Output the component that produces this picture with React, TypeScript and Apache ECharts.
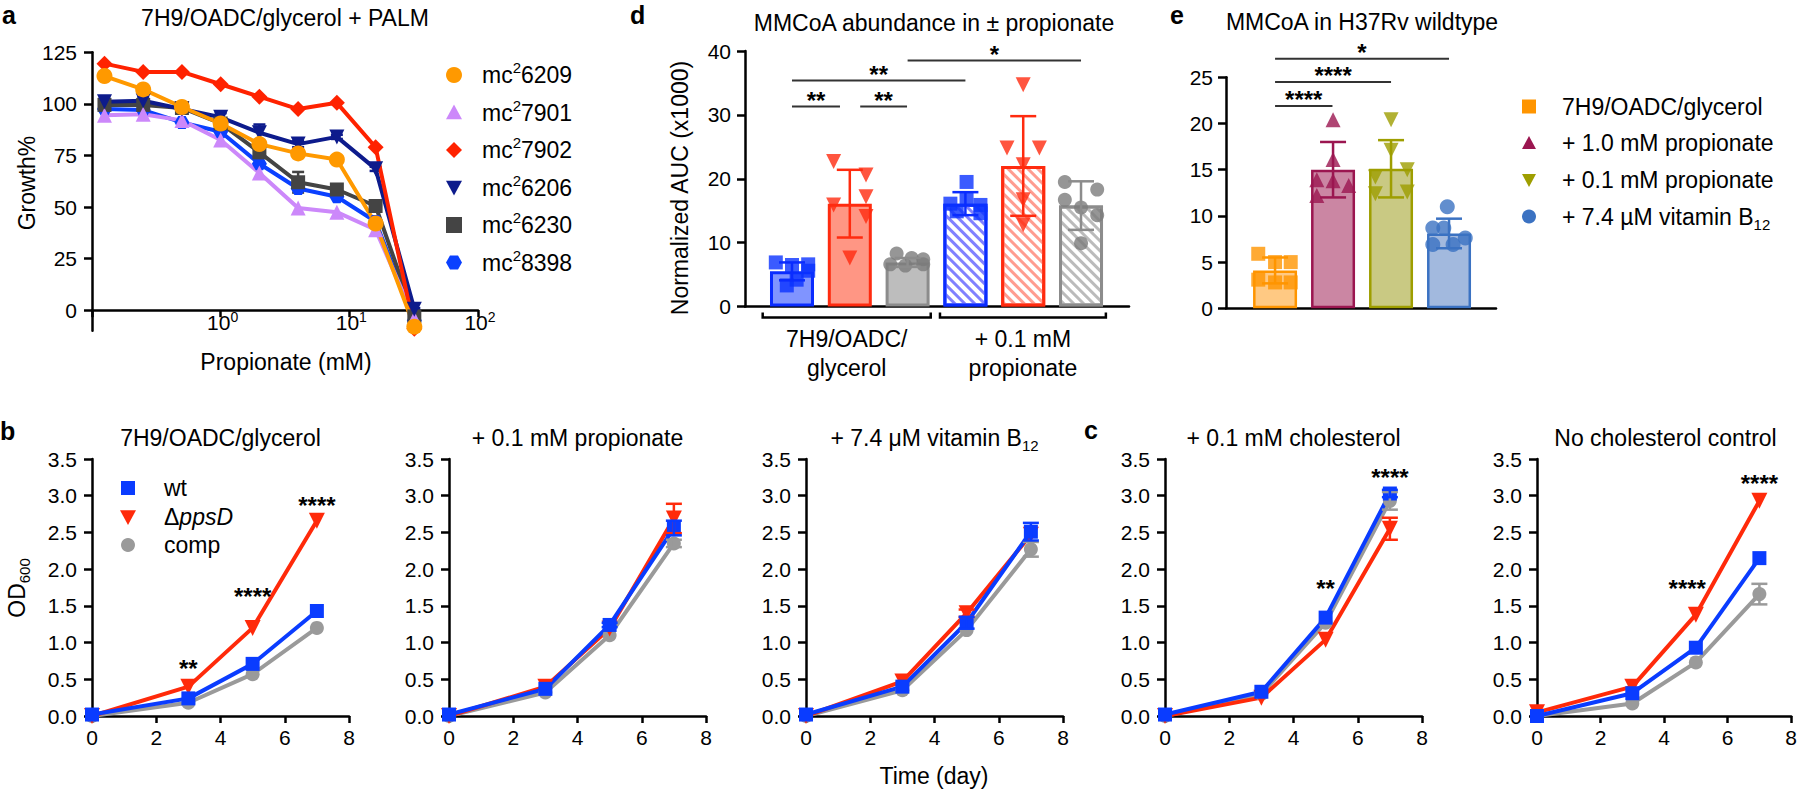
import React, { useEffect, useRef } from 'react';
import * as echarts from 'echarts';

const FONT = '"Liberation Sans", Arial, Helvetica, sans-serif';

// ===== Panel a : growth (%) vs propionate (mM), PALM =====
const concA = [0.125, 0.25, 0.5, 1, 2, 4, 8, 16, 32];
const growth6209 = [113.5, 107, 98.5, 90.5, 80.5, 76, 73, 42, -8];
const growth7901 = [94.5, 95, 92, 82.5, 66.5, 49.5, 47.5, 39, -4];
const growth7902 = [119.5, 115.5, 115.5, 109.5, 103.5, 97.5, 100.5, 79, -9];
const growth6206 = [101, 101.5, 97.5, 93.5, 86, 80.5, 84, 68.5, 0.5];
const growth6230 = [99.5, 99.5, 98, 90.5, 76.5, 62, 58.5, 50.5, -3];
const growth8398 = [97.5, 97, 91, 86.5, 71, 59, 55, 43, -5];
const sdA6206 = [1.5, 2, 1, 2, 4, 1.5, 1, 1, 0.5];
const sdA6230 = [1, 1, 1, 1, 2, 5, 1.5, 1.5, 1];
const strainsA = ['6209', '7901', '7902', '6206', '6230', '8398'];
const growthTicksA = [0, 25, 50, 75, 100, 125];
const logTicksA = [1, 10, 100];
const logTickExpA = ['0', '1', '2'];

// ===== Panels b, c : OD600 vs time (day) =====
const days = [0, 3, 5, 7];
const b1Wt = [0.02, 0.24, 0.71, 1.43];
const b1Del = [0.0, 0.4, 1.2, 2.66];
const b1Comp = [0.0, 0.18, 0.57, 1.2];
const b2Wt = [0.02, 0.37, 1.24, 2.56];
const b2Del = [0.0, 0.4, 1.19, 2.69];
const b2Comp = [0.0, 0.32, 1.1, 2.35];
const b3Wt = [0.02, 0.4, 1.27, 2.51];
const b3Del = [0.0, 0.47, 1.4, 2.47];
const b3Comp = [0.0, 0.35, 1.17, 2.27];
const c1Wt = [0.02, 0.33, 1.34, 3.03];
const c1Del = [0.0, 0.25, 1.04, 2.55];
const c1Comp = [0.0, 0.3, 1.27, 2.93];
const c2Wt = [0.0, 0.31, 0.93, 2.15];
const c2Del = [0.05, 0.4, 1.38, 2.93];
const c2Comp = [0.0, 0.17, 0.73, 1.66];
const noSD = [0, 0, 0, 0];
const b2WtSD = [0, 0, 0.03, 0.1];
const b2DelSD = [0, 0, 0, 0.2];
const b2CompSD = [0, 0, 0, 0.05];
const b3WtSD = [0, 0, 0.08, 0.12];
const b3DelSD = [0, 0, 0.05, 0];
const b3CompSD = [0, 0, 0, 0.1];
const c1WtSD = [0, 0, 0, 0.05];
const c1DelSD = [0, 0, 0, 0.15];
const c1CompSD = [0, 0, 0, 0.12];
const c2CompSD = [0, 0, 0, 0.14];
const b1Stars = [[3, 0.71], [5, 1.69], [7, 2.94]];
const b1StarText = ['**', '****', '****'];
const c1Stars = [[5, 1.81], [7, 3.32]];
const c1StarText = ['**', '****'];
const c2Stars = [[4.73, 1.81], [7, 3.24]];
const c2StarText = ['****', '****'];
const bcTitles = ['7H9/OADC/glycerol', '+ 0.1 mM propionate', '+ 7.4 \u03bcM vitamin B', '+ 0.1 mM cholesterol', 'No cholesterol control'];
const bcTitleSubs = ['', '', '12', '', ''];
const odTicks = [0, 0.5, 1, 1.5, 2, 2.5, 3, 3.5];

// ===== Panel d : MMCoA abundance +/- propionate =====
const dGroupLabels = [['7H9/OADC/', 'glycerol'], ['+ 0.1 mM', 'propionate']];
const dBrackets = [[-0.507, 2.4], [2.56, 5.43]];
const dBarMeans = [5.5, 16.1, 6.9, 16.1, 22.0, 15.8];
const dBarSD = [1.4, 5.3, 0.7, 1.8, 7.8, 3.8];
const dBlue7H9 = [6.9, 6.5, 6.6, 5.6, 4.2, 3.3];
const dBlue7H9Off = [-0.28, 0, 0.28, 0.28, 0.08, -0.09];
const dRed7H9 = [22.7, 20.6, 15.9, 17.2, 14.1, 7.6];
const dRed7H9Off = [-0.28, 0.28, -0.28, 0.28, 0.28, 0];
const dGray7H9 = [8.3, 7.6, 7.4, 6.6, 6.4, 6.6];
const dGray7H9Off = [-0.19, 0.07, 0.27, -0.3, -0.04, 0.27];
const dBlueProp = [19.5, 16.9, 16.1, 15.9, 14.9, 14.6];
const dBluePropOff = [0.02, 0.02, -0.26, 0.26, -0.15, 0.26];
const dRedProp = [34.7, 24.8, 24.8, 22.2, 16.7, 12.8];
const dRedPropOff = [0, -0.28, 0.28, 0, 0, 0];
const dGrayProp = [19.5, 18.3, 16.7, 14.3, 9.9, 15.5];
const dGrayPropOff = [-0.28, 0.28, -0.28, 0.28, 0, 0];
const dSigLines = [[0, 0.83, 31.3], [1.18, 1.99, 31.3], [0, 3, 35.4], [2, 5, 38.5]];
const dSigText = ['**', '**', '**', '*'];

// ===== Panel e : MMCoA in H37Rv wildtype =====
const eLegend = ['7H9/OADC/glycerol', '+ 1.0 mM propionate', '+ 0.1 mM propionate', '+ 7.4 \u00b5M vitamin B'];
const eLegendSubs = ['', '', '', '12'];
const eBarMeans = [4.1, 15.0, 15.1, 8.1];
const eBarSD = [1.4, 3.0, 3.1, 1.6];
const eOrange = [5.9, 3.1, 5.0, 2.8, 5.0, 2.8];
const eOrangeOff = [-0.29, -0.29, 0, 0, 0.27, 0.27];
const eMaroon = [20.4, 16.1, 13.9, 13.8, 13.3, 12.2];
const eMaroonOff = [0, 0, -0.28, 0, 0.27, -0.28];
const eOlive = [20.4, 17.1, 15.0, 14.2, 12.4, 12.6];
const eOliveOff = [0, 0, 0.28, -0.27, -0.27, 0.28];
const eBlue = [11.0, 8.7, 8.7, 7.6, 6.9, 6.9];
const eBlueOff = [-0.03, -0.28, -0.09, 0.28, -0.28, 0.07];
const eSigLines = [[0, 0.99, 21.9], [0, 2, 24.5], [0, 3, 27.0]];
const eSigText = ['****', '****', '*'];

// ---------- styling ----------
const BLUE = '#0A3CFF';
const RED = '#FF2A0A';
const GRAY = '#9A9A9A';
const hexPath = 'path://M-1,0L-0.5,-0.866L0.5,-0.866L1,0L0.5,0.866L-0.5,0.866Z';

const axisLine = (onZero = true) => ({ show: true, onZero, lineStyle: { color: '#000', width: 2.5 } });
const axisTick = (len = 8) => ({ show: true, inside: false, length: len, lineStyle: { color: '#000', width: 2.5 } });

function errorBars(ai: number, data: number[][], colors: string | string[], capHalf: number, lw: number, z = 4) {
  return {
    type: 'custom', xAxisIndex: ai, yAxisIndex: ai, z, clip: false, silent: true,
    data,
    renderItem: (params: any, api: any) => {
      const x = api.value(0), m = api.value(1), s = api.value(2);
      if (!s) return { type: 'group', children: [] };
      const c = Array.isArray(colors) ? colors[params.dataIndex] : colors;
      const t = api.coord([x, m + s]);
      const b = api.coord([x, m - s]);
      const st = { stroke: c, lineWidth: lw };
      return {
        type: 'group', children: [
          { type: 'line', shape: { x1: t[0], y1: t[1], x2: b[0], y2: b[1] }, style: st },
          { type: 'line', shape: { x1: t[0] - capHalf, y1: t[1], x2: t[0] + capHalf, y2: t[1] }, style: st },
          { type: 'line', shape: { x1: b[0] - capHalf, y1: b[1], x2: b[0] + capHalf, y2: b[1] }, style: st },
        ],
      };
    },
  };
}

function starSeries(ai: number, pts: number[][], labels: string[]) {
  return {
    type: 'custom', xAxisIndex: ai, yAxisIndex: ai, z: 6, clip: false, silent: true,
    data: pts,
    renderItem: (params: any, api: any) => {
      const p = api.coord([api.value(0), api.value(1)]);
      return {
        type: 'text', x: p[0], y: p[1] + 5,
        style: { text: labels[params.dataIndex], fontSize: 24, fontWeight: 'bold', fontFamily: FONT, fill: '#000', align: 'center', verticalAlign: 'middle' },
      };
    },
  };
}

function sigSeries(ai: number, lines: number[][], labels: string[]) {
  return {
    type: 'custom', xAxisIndex: ai, yAxisIndex: ai, z: 6, clip: false, silent: true,
    data: lines,
    renderItem: (params: any, api: any) => {
      const p1 = api.coord([api.value(0), api.value(2)]);
      const p2 = api.coord([api.value(1), api.value(2)]);
      return {
        type: 'group', children: [
          { type: 'line', shape: { x1: p1[0], y1: p1[1], x2: p2[0], y2: p2[1] }, style: { stroke: '#333', lineWidth: 2 } },
          { type: 'text', x: (p1[0] + p2[0]) / 2, y: p1[1] - 6, style: { text: labels[params.dataIndex], fontSize: 24, fontWeight: 'bold', fontFamily: FONT, fill: '#000', align: 'center', verticalAlign: 'middle' } },
        ],
      };
    },
  };
}

function txt(x: number, y: number, text: string, o: any = {}) {
  return {
    type: 'text', x, y, rotation: o.rotation || 0, silent: true,
    style: {
      text, fill: '#000', fontSize: o.fontSize || 23, fontFamily: FONT, fontWeight: o.bold ? 'bold' : 'normal',
      align: o.align || 'center', verticalAlign: 'middle', rich: o.rich,
    },
  };
}

const richText = {
  t: { fontSize: 23, fontFamily: FONT, fill: '#000', lineHeight: 30 },
  i: { fontSize: 23, fontFamily: FONT, fill: '#000', lineHeight: 30, fontStyle: 'italic' },
  sup: { fontSize: 15, fontFamily: FONT, fill: '#000', lineHeight: 12, verticalAlign: 'top' },
  sub: { fontSize: 15, fontFamily: FONT, fill: '#000', lineHeight: 14, verticalAlign: 'bottom' },
};

const richTick = {
  b: { fontSize: 21, fontFamily: FONT, fill: '#000', lineHeight: 24 },
  s: { fontSize: 14, fontFamily: FONT, fill: '#000', lineHeight: 10, verticalAlign: 'top' },
};

function marker(kind: string, x: number, y: number, color: string, s = 7.5) {
  const base = { x, y, silent: true, style: { fill: color } };
  if (kind === 'circle') return { ...base, type: 'circle', shape: { cx: 0, cy: 0, r: s } };
  if (kind === 'rect') return { ...base, type: 'rect', shape: { x: -s, y: -s, width: 2 * s, height: 2 * s } };
  let pts: number[][] = [];
  if (kind === 'up') pts = [[0, -s], [s, s * 0.85], [-s, s * 0.85]];
  if (kind === 'down') pts = [[-s, -s * 0.85], [s, -s * 0.85], [0, s]];
  if (kind === 'diamond') pts = [[0, -s], [s, 0], [0, s], [-s, 0]];
  if (kind === 'hex') pts = [[-s, 0], [-s / 2, -s * 0.866], [s / 2, -s * 0.866], [s, 0], [s / 2, s * 0.866], [-s / 2, s * 0.866]];
  return { ...base, type: 'polygon', shape: { points: pts } };
}

function hatch(color: string) {
  return { symbol: 'rect', symbolSize: 1, color, dashArrayX: [1, 0], dashArrayY: [2.5, 3.2], rotation: Math.PI / 4 };
}

function buildOption() {
  const grid: any[] = [];
  const xAxis: any[] = [];
  const yAxis: any[] = [];
  const series: any[] = [];
  const g: any[] = [];

  // ---------------- Panel a ----------------
  grid.push({ left: 92, top: 52.3, width: 386, height: 278.5 });
  xAxis.push({
    type: 'log', logBase: 10, gridIndex: 0, min: 0.1, max: 100,
    axisLine: axisLine(true), axisTick: axisTick(7), splitLine: { show: false }, minorTick: { show: false },
    axisLabel: { show: false },
  });
  yAxis.push({
    type: 'value', gridIndex: 0, min: -10, max: 125,
    axisLine: axisLine(false), axisTick: { ...axisTick(8), customValues: growthTicksA },
    axisLabel: { fontSize: 21, color: '#000', margin: 15, customValues: growthTicksA },
    splitLine: { show: false },
  });
  // log-axis tick labels (10^k), placed at the zero line through the axis scales
  series.push({
    type: 'custom', xAxisIndex: 0, yAxisIndex: 0, z: 6, clip: false, silent: true,
    data: logTicksA.map((v) => [v, 0]),
    renderItem: (params: any, api: any) => {
      const p = api.coord([api.value(0), api.value(1)]);
      return {
        type: 'text', x: p[0] + 2, y: p[1] + 12,
        style: { text: `{b|10}{s|${logTickExpA[params.dataIndex]}}`, rich: richTick, fontFamily: FONT, fontSize: 21, fill: '#000', align: 'center', verticalAlign: 'middle' },
      };
    },
  });
  const aDefs: any = {
    '8398': { vals: growth8398, color: '#0A40FF', symbol: hexPath, size: 15, leg: 'hex' },
    '6230': { vals: growth6230, color: '#444444', symbol: 'rect', size: 14, leg: 'rect', sd: sdA6230 },
    '7901': { vals: growth7901, color: '#CC88FA', symbol: 'triangle', size: 15, leg: 'up' },
    '6206': { vals: growth6206, color: '#0D1B8C', symbol: 'triangle', rot: 180, size: 15, leg: 'down', sd: sdA6206 },
    '7902': { vals: growth7902, color: '#FF2200', symbol: 'diamond', size: 16, leg: 'diamond' },
    '6209': { vals: growth6209, color: '#FF9900', symbol: 'circle', size: 16, leg: 'circle' },
  };
  ['8398', '6230', '7901', '6206', '7902', '6209'].forEach((k) => {
    const d = aDefs[k];
    series.push({
      type: 'line', xAxisIndex: 0, yAxisIndex: 0, z: 2, silent: true,
      data: concA.map((c, i) => [c, d.vals[i]]),
      symbol: d.symbol, symbolSize: d.size, symbolRotate: d.rot || 0, symbolKeepAspect: true,
      lineStyle: { color: d.color, width: 4 }, itemStyle: { color: d.color },
    });
    if (d.sd) series.push(errorBars(0, concA.map((c, i) => [c, d.vals[i], d.sd[i]]), d.color, 6, 2.5, 2));
  });
  strainsA.forEach((k, i) => {
    const y = 75 + i * 37.5;
    g.push(marker(aDefs[k].leg, 454, y, aDefs[k].color, 8));
    g.push(txt(482, y, `{t|mc}{sup|2}{t|${k}}`, { align: 'left', rich: richText }));
  });
  g.push(txt(285, 18, '7H9/OADC/glycerol + PALM'));
  g.push(txt(27, 183, 'Growth%', { rotation: Math.PI / 2 }));
  g.push(txt(286, 362, 'Propionate (mM)'));
  g.push(txt(2, 15, 'a', { align: 'left', bold: true, fontSize: 25 }));

  // ---------------- Panel d ----------------
  grid.push({ left: 745, top: 51, width: 384, height: 255.5 });
  xAxis.push({ type: 'value', gridIndex: 1, min: -0.813, max: 5.83, axisLine: axisLine(true), axisTick: { show: false }, axisLabel: { show: false }, splitLine: { show: false } });
  yAxis.push({ type: 'value', gridIndex: 1, min: 0, max: 40, interval: 10, axisLine: axisLine(false), axisTick: axisTick(8), axisLabel: { fontSize: 21, color: '#000', margin: 14 }, splitLine: { show: false } });
  const dFill = ['#8094FF', '#FF9684', '#BDBDBD', '#FFFFFF', '#FFFFFF', '#FFFFFF'];
  const dBorder = ['#0A2CFF', '#FF2B0F', '#8C8C8C', '#0A2CFF', '#FF2B0F', '#8C8C8C'];
  const dStripe = ['', '', '', '#8080FF', '#FF9C90', '#BBBBBB'];
  series.push({
    type: 'bar', xAxisIndex: 1, yAxisIndex: 1, barWidth: 44, z: 2, silent: true,
    data: dBarMeans.map((m, i) => ({
      value: [i, m],
      itemStyle: { color: dFill[i], borderColor: dBorder[i], borderWidth: 3, ...(i >= 3 ? { decal: hatch(dStripe[i]) } : {}) },
    })),
  });
  const pts = (vals: number[], offs: number[], base: number) => vals.map((v, i) => [base + offs[i], v]);
  series.push({ type: 'scatter', xAxisIndex: 1, yAxisIndex: 1, z: 3, silent: true, symbol: 'rect', symbolSize: 14, itemStyle: { color: '#0A32FF' }, data: [...pts(dBlue7H9, dBlue7H9Off, 0), ...pts(dBlueProp, dBluePropOff, 3)] });
  series.push({ type: 'scatter', xAxisIndex: 1, yAxisIndex: 1, z: 3, silent: true, symbol: 'triangle', symbolRotate: 180, symbolSize: 15, itemStyle: { color: '#FF2B0F' }, data: [...pts(dRed7H9, dRed7H9Off, 1), ...pts(dRedProp, dRedPropOff, 4)] });
  series.push({ type: 'scatter', xAxisIndex: 1, yAxisIndex: 1, z: 3, silent: true, symbol: 'circle', symbolSize: 14, itemStyle: { color: '#7C7C7C' }, data: [...pts(dGray7H9, dGray7H9Off, 2), ...pts(dGrayProp, dGrayPropOff, 5)] });
  series.push(errorBars(1, dBarMeans.map((m, i) => [i, m, dBarSD[i]]), dBorder, 13, 2.5, 4));
  series.push(sigSeries(1, dSigLines, dSigText));
  series.push({
    type: 'custom', xAxisIndex: 1, yAxisIndex: 1, z: 6, clip: false, silent: true,
    data: dBrackets,
    renderItem: (params: any, api: any) => {
      const a = api.coord([api.value(0), 0]);
      const b = api.coord([api.value(1), 0]);
      const y = a[1] + 11;
      const lab = dGroupLabels[params.dataIndex];
      const cx = (a[0] + b[0]) / 2;
      return {
        type: 'group', children: [
          { type: 'polyline', shape: { points: [[a[0], y - 5], [a[0], y], [b[0], y], [b[0], y - 5]] }, style: { stroke: '#000', lineWidth: 2.5, fill: 'none' } },
          { type: 'text', x: cx, y: y + 21, style: { text: lab[0], fontSize: 23, fontFamily: FONT, fill: '#000', align: 'center', verticalAlign: 'middle' } },
          { type: 'text', x: cx, y: y + 50, style: { text: lab[1], fontSize: 23, fontFamily: FONT, fill: '#000', align: 'center', verticalAlign: 'middle' } },
        ],
      };
    },
  });
  g.push(txt(934, 23, 'MMCoA abundance in \u00b1 propionate'));
  g.push(txt(680, 188, 'Normalized AUC (x1000)', { rotation: Math.PI / 2 }));
  g.push(txt(630, 15, 'd', { align: 'left', bold: true, fontSize: 25 }));

  // ---------------- Panel e ----------------
  grid.push({ left: 1226, top: 77.3, width: 270, height: 231 });
  xAxis.push({ type: 'value', gridIndex: 2, min: -0.846, max: 3.81, axisLine: axisLine(true), axisTick: { show: false }, axisLabel: { show: false }, splitLine: { show: false } });
  yAxis.push({ type: 'value', gridIndex: 2, min: 0, max: 25, interval: 5, axisLine: axisLine(false), axisTick: axisTick(8), axisLabel: { fontSize: 21, color: '#000', margin: 13 }, splitLine: { show: false } });
  const eMain = ['#FF9500', '#9B1650', '#9E9E00', '#3B72C2'];
  const eFill = ['#FFC983', '#CB86A3', '#C9C983', '#A2B9DE'];
  series.push({
    type: 'bar', xAxisIndex: 2, yAxisIndex: 2, barWidth: 44, z: 2, silent: true,
    data: eBarMeans.map((m, i) => ({ value: [i, m], itemStyle: { color: eFill[i], borderColor: eMain[i], borderWidth: 2.5 } })),
  });
  series.push({ type: 'scatter', xAxisIndex: 2, yAxisIndex: 2, z: 3, silent: true, symbol: 'rect', symbolSize: 14, itemStyle: { color: eMain[0] }, data: pts(eOrange, eOrangeOff, 0) });
  series.push({ type: 'scatter', xAxisIndex: 2, yAxisIndex: 2, z: 3, silent: true, symbol: 'triangle', symbolSize: 15, itemStyle: { color: eMain[1] }, data: pts(eMaroon, eMaroonOff, 1) });
  series.push({ type: 'scatter', xAxisIndex: 2, yAxisIndex: 2, z: 3, silent: true, symbol: 'triangle', symbolRotate: 180, symbolSize: 15, itemStyle: { color: eMain[2] }, data: pts(eOlive, eOliveOff, 2) });
  series.push({ type: 'scatter', xAxisIndex: 2, yAxisIndex: 2, z: 3, silent: true, symbol: 'circle', symbolSize: 15, itemStyle: { color: eMain[3] }, data: pts(eBlue, eBlueOff, 3) });
  series.push(errorBars(2, eBarMeans.map((m, i) => [i, m, eBarSD[i]]), eMain, 13, 2.5, 4));
  series.push(sigSeries(2, eSigLines, eSigText));
  const eLegKinds = ['rect', 'up', 'down', 'circle'];
  const eRows = [106.5, 143, 180, 216.5];
  eLegend.forEach((s, i) => {
    g.push(marker(eLegKinds[i], 1529, eRows[i], eMain[i], 7));
    g.push(txt(1562, eRows[i], eLegendSubs[i] ? `{t|${s}}{sub|${eLegendSubs[i]}}` : s, { align: 'left', rich: richText }));
  });
  g.push(txt(1362, 22, 'MMCoA in H37Rv wildtype'));
  g.push(txt(1170, 15, 'e', { align: 'left', bold: true, fontSize: 25 }));

  // ---------------- Panels b, c ----------------
  const bcPanels = [
    { wt: b1Wt, del: b1Del, comp: b1Comp, wtSD: noSD, delSD: noSD, compSD: noSD, stars: b1Stars, starText: b1StarText },
    { wt: b2Wt, del: b2Del, comp: b2Comp, wtSD: b2WtSD, delSD: b2DelSD, compSD: b2CompSD },
    { wt: b3Wt, del: b3Del, comp: b3Comp, wtSD: b3WtSD, delSD: b3DelSD, compSD: b3CompSD },
    { wt: c1Wt, del: c1Del, comp: c1Comp, wtSD: c1WtSD, delSD: c1DelSD, compSD: c1CompSD, stars: c1Stars, starText: c1StarText },
    { wt: c2Wt, del: c2Del, comp: c2Comp, wtSD: noSD, delSD: noSD, compSD: c2CompSD, stars: c2Stars, starText: c2StarText },
  ];
  const bcLefts = [92, 449, 806, 1165, 1537];
  bcPanels.forEach((p: any, k) => {
    const gi = 3 + k;
    grid.push({ left: bcLefts[k], top: 459, width: 257, height: 257 });
    xAxis.push({ type: 'value', gridIndex: gi, min: 0, max: 8, interval: 2, axisLine: axisLine(true), axisTick: axisTick(7), axisLabel: { fontSize: 21, color: '#000', margin: 11 }, splitLine: { show: false } });
    yAxis.push({
      type: 'value', gridIndex: gi, min: 0, max: 3.5, interval: 0.5, axisLine: axisLine(false), axisTick: axisTick(8),
      axisLabel: { fontSize: 21, color: '#000', margin: 15, customValues: odTicks, formatter: (v: number) => v.toFixed(1) },
      splitLine: { show: false },
    });
    const groups = [
      { vals: p.comp, sd: p.compSD, color: GRAY, symbol: 'circle', size: 14, rot: 0 },
      { vals: p.del, sd: p.delSD, color: RED, symbol: 'triangle', size: 16, rot: 180 },
      { vals: p.wt, sd: p.wtSD, color: BLUE, symbol: 'rect', size: 14, rot: 0 },
    ];
    groups.forEach((gr) => {
      series.push({
        type: 'line', xAxisIndex: gi, yAxisIndex: gi, z: 2, silent: true,
        data: days.map((d, j) => [d, gr.vals[j]]),
        symbol: gr.symbol, symbolSize: gr.size, symbolRotate: gr.rot,
        lineStyle: { color: gr.color, width: 4 }, itemStyle: { color: gr.color },
      });
      series.push(errorBars(gi, days.map((d, j) => [d, gr.vals[j], gr.sd[j]]), gr.color, 8, 2.5, 3));
    });
    if (p.stars) series.push(starSeries(gi, p.stars, p.starText));
    const cx = bcLefts[k] + 128.5;
    g.push(txt(cx, 438, bcTitleSubs[k] ? `{t|${bcTitles[k]}}{sub|${bcTitleSubs[k]}}` : bcTitles[k], { rich: richText }));
  });
  // legend (panel b)
  g.push(marker('rect', 128, 488, BLUE, 7));
  g.push(marker('down', 128, 517, RED, 8));
  g.push(marker('circle', 128, 545, GRAY, 7));
  g.push(txt(164, 488, 'wt', { align: 'left' }));
  g.push(txt(164, 517, '{t|\u0394}{i|ppsD}', { align: 'left', rich: richText }));
  g.push(txt(164, 545, 'comp', { align: 'left' }));
  g.push(txt(17, 588, '{t|OD}{sub|600}', { rotation: Math.PI / 2, rich: richText }));
  g.push(txt(934, 776, 'Time (day)'));
  g.push(txt(0, 431, 'b', { align: 'left', bold: true, fontSize: 25 }));
  g.push(txt(1084, 430, 'c', { align: 'left', bold: true, fontSize: 25 }));

  return {
    animation: false,
    backgroundColor: '#ffffff',
    textStyle: { fontFamily: FONT, color: '#000' },
    grid, xAxis, yAxis, series,
    graphic: { elements: g },
  };
}

export default function App() {
  const ref = useRef<HTMLDivElement>(null);
  useEffect(() => {
    document.body.style.margin = '0';
    const chart = echarts.init(ref.current as HTMLDivElement, null, { renderer: 'svg' });
    chart.setOption(buildOption() as any);
    return () => chart.dispose();
  }, []);
  return <div ref={ref} style={{ width: 1800, height: 789, background: '#fff' }} />;
}
